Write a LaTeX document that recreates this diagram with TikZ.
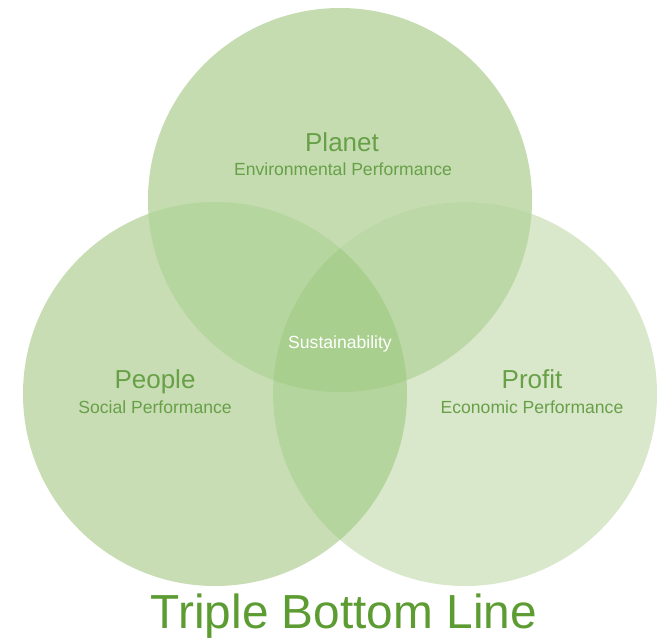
\documentclass[tikz,border=0pt]{standalone}
\usepackage{fontspec}
\setmainfont{Liberation Sans}
\usepackage{tikz}
\usepackage{color}

\definecolor{planetfill}{RGB}{196,220,176}
\definecolor{peoplefill}{RGB}{200,221,180}
\definecolor{profitfill}{RGB}{217,231,203}
\definecolor{pplpla}{RGB}{181,214,158}
\definecolor{plapro}{RGB}{188,216,166}
\definecolor{pplpro}{RGB}{181,213,159}
\definecolor{allthree}{RGB}{169,207,143}
\definecolor{labelgreen}{RGB}{104,160,72}
\definecolor{titlegreen}{RGB}{92,156,50}

\tikzset{
  bigname/.style={text=labelgreen, font=\fontsize{18.5}{20}\selectfont, inner sep=0pt, anchor=base},
  subname/.style={text=labelgreen, font=\fontsize{12.5}{14}\selectfont, inner sep=0pt, anchor=base}
}

\begin{document}
\begin{tikzpicture}
\useasboundingbox (0,0) rectangle (16.6,-16);
\fill[white] (0,0) rectangle (16.6,-16);

\coordinate (planetc) at (8.5,-5.0);
\coordinate (peoplec) at (5.375,-9.85);
\coordinate (profitc) at (11.625,-9.85);

% the three circles
\fill[planetfill] (planetc) circle (4.8);
\fill[peoplefill] (peoplec) circle (4.8);
\fill[profitfill] (profitc) circle (4.8);

% overlaps
\begin{scope}
\clip (planetc) circle (4.8);
\fill[pplpla] (peoplec) circle (4.8);
\fill[plapro] (profitc) circle (4.8);
\end{scope}
\begin{scope}
\clip (peoplec) circle (4.8);
\fill[pplpro] (profitc) circle (4.8);
\clip (profitc) circle (4.8);
\fill[allthree] (planetc) circle (4.8);
\end{scope}

\node[bigname] (planet) at (8.55,-3.8) {Planet};
\node[subname] (planetsub) at (8.575,-4.38) {Environmental Performance};
\node[bigname] (people) at (3.875,-9.72) {People};
\node[subname] (peoplesub) at (3.875,-10.33) {Social Performance};
\node[bigname] (profit) at (13.3,-9.72) {Profit};
\node[subname] (profitsub) at (13.3,-10.33) {Economic Performance};
\node[subname, text=white] (sustain) at (8.5,-8.7) {Sustainability};

\node[text=titlegreen, font=\fontsize{34}{40}\selectfont, anchor=base, inner sep=0pt] (title) at (8.6,-15.72) {Triple Bottom Line};

\end{tikzpicture}
\end{document}
